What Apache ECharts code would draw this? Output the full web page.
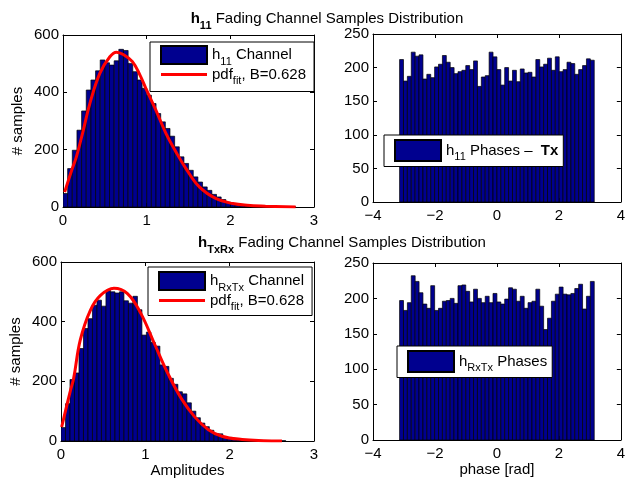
<!DOCTYPE html>
<html lang="en">
<head>
  <meta charset="UTF-8">
  <title>Fading Channel Samples Distribution</title>
  <script src="https://cdn.jsdelivr.net/npm/echarts/dist/echarts.min.js"></script>
  <style>
    html, body { margin: 0; padding: 0; background: #fff; }
    #chart { width: 628px; height: 481px; }
  </style>
</head>
<body>
<div id="chart"></div>
<script>
  // h11 amplitude histogram (50 bins)
  const h11AmpCounts = [47, 134, 198, 268, 335, 408, 443, 475, 513, 503, 495, 510, 550, 546, 501, 472, 443, 414, 390, 361,
    326, 297, 274, 247, 210, 175, 152, 128, 105, 87, 70, 58, 44, 35, 26, 17, 12, 7, 5, 4,
    3, 2, 2, 1, 1, 1, 0, 1, 0, 1];
  const h11AmpBinStart = 0.0;
  const h11AmpBinWidth = 0.0556;
  // fitted pdf
  const h11FitX = [0.02, 0.1, 0.16, 0.24, 0.32, 0.44, 0.56, 0.64, 0.72, 0.83, 0.92, 0.99, 1.11, 1.23, 1.35, 1.47, 1.63, 1.83, 2.03, 2.2, 2.42, 2.78];
  const h11FitY = [52, 125, 175, 265, 360, 466, 524, 540, 532, 507, 460, 414, 338, 257, 192, 134, 70, 29, 12, 6, 3, 0];

  // h11 phase histogram (50 bins over -pi..pi)
  const h11PhaseCounts = [212, 180, 187, 223, 217, 219, 183, 190, 185, 201, 205, 218, 208, 200, 191, 194, 196, 203, 197, 210,
    172, 186, 188, 223, 216, 197, 174, 200, 180, 196, 179, 198, 192, 193, 186, 212, 201, 205, 214, 196,
    216, 194, 197, 208, 206, 190, 197, 203, 213, 211];

  // hTxRx amplitude histogram
  const txrxAmpCounts = [45, 125, 206, 228, 310, 377, 410, 455, 472, 452, 505, 500, 496, 500, 470, 462, 485, 440, 355, 365,
    330, 318, 255, 250, 210, 190, 165, 158, 128, 100, 78, 60, 48, 36, 25, 24, 14, 12, 8, 6,
    4, 3, 2, 2, 1, 1, 1, 0, 0, 1];
  const txrxAmpBinStart = 0.0;
  const txrxAmpBinWidth = 0.0533;
  const txrxFitX = [0.008, 0.108, 0.15, 0.228, 0.348, 0.468, 0.628, 0.788, 0.948, 1.108, 1.268, 1.428, 1.588, 1.748, 1.908, 2.148, 2.4, 2.62];
  const txrxFitY = [47, 165, 210, 338, 438, 488, 512, 494, 427, 326, 226, 142, 80, 38, 16, 5, 1, 0];

  // hTxRx phase histogram
  const txrxPhaseCounts = [197, 183, 194, 232, 224, 208, 192, 186, 218, 183, 186, 196, 197, 200, 193, 218, 219, 210, 195, 213,
    200, 194, 203, 194, 207, 195, 192, 199, 215, 213, 196, 203, 186, 194, 196, 213, 189, 156, 172, 196,
    206, 216, 206, 205, 207, 214, 220, 185, 203, 224];
  const phaseBinStart = -Math.PI;
  const phaseBinWidth = 2 * Math.PI / 50;

  // axis ranges / ticks
  const ampXTicks = [0, 3, 1];
  const ampYTicks = [0, 600, 200];
  const phaseXTicks = [-4, 4, 2];
  const phaseYTicks = [0, 250, 50];

  const FONT = '"Liberation Sans", Arial, Helvetica, sans-serif';
  const BAR_FILL = '#00008F';
  const FIT_RED = '#FF0000';
  const LINE_ICON = 'path://M0,0H46V3H0Z';

  const chart = echarts.init(document.getElementById('chart'), null, { renderer: 'canvas' });

  const rich = {
    n: { fontSize: 15, fontFamily: FONT, color: '#000', lineHeight: 24, verticalAlign: 'middle' },
    b: { fontSize: 15, fontFamily: FONT, color: '#000', fontWeight: 'bold', lineHeight: 24, verticalAlign: 'middle' },
    s: { fontSize: 11, fontFamily: FONT, color: '#000', lineHeight: 11, verticalAlign: 'bottom' },
    sb: { fontSize: 11, fontFamily: FONT, color: '#000', fontWeight: 'bold', lineHeight: 11, verticalAlign: 'bottom' }
  };

  const legendText = {
    'h11 Channel': '{n|h}{s|11}{n| Channel}',
    'pdf11': '{n|pdf}{s|fit}{n|, B=0.628}',
    'h11 Phases': '{n|h}{s|11}{n| Phases –  }{b|Tx}',
    'hRxTx Channel': '{n|h}{s|RxTx}{n| Channel}',
    'pdfRxTx': '{n|pdf}{s|fit}{n|, B=0.628}',
    'hRxTx Phases': '{n|h}{s|RxTx}{n| Phases}'
  };

  const grids = [
    { left: 63, top: 35, width: 251, height: 172 },
    { left: 373, top: 34, width: 251, height: 168 },
    { left: 61, top: 262, width: 253, height: 179 },
    { left: 373, top: 263, width: 251, height: 177 }
  ];

  const tickFmt = v => String(v).replace('-', '\u2212');

  const xAxes = [], yAxes = [];
  function addAxes(gi, xt, yt, xName, xNameGap, yName) {
    const line = { show: true, onZero: false, lineStyle: { color: '#000', width: 1 } };
    const tick = { show: true, inside: true, length: 4, lineStyle: { color: '#000' } };
    const label = { show: true, color: '#000', fontSize: 15, fontFamily: FONT, formatter: tickFmt };
    xAxes.push({
      gridIndex: gi, type: 'value', min: xt[0], max: xt[1], interval: xt[2],
      axisLine: line, axisTick: tick, splitLine: { show: false },
      axisLabel: Object.assign({ margin: 6 }, label),
      name: xName, nameLocation: 'middle', nameGap: xNameGap,
      nameTextStyle: { color: '#000', fontSize: 15, fontFamily: FONT }
    });
    xAxes.push({
      gridIndex: gi, type: 'value', position: 'top', min: xt[0], max: xt[1], interval: xt[2],
      axisLine: line, axisTick: tick, splitLine: { show: false }, axisLabel: { show: false }
    });
    yAxes.push({
      gridIndex: gi, type: 'value', min: yt[0], max: yt[1], interval: yt[2],
      axisLine: line, axisTick: tick, splitLine: { show: false },
      axisLabel: Object.assign({ margin: 4 }, label),
      name: yName, nameLocation: 'middle', nameGap: 38, nameRotate: 90,
      nameTextStyle: { color: '#000', fontSize: 15, fontFamily: FONT }
    });
    yAxes.push({
      gridIndex: gi, type: 'value', position: 'right', min: yt[0], max: yt[1], interval: yt[2],
      axisLine: line, axisTick: tick, splitLine: { show: false }, axisLabel: { show: false }
    });
  }
  addAxes(0, ampXTicks, ampYTicks, '', 0, '# samples');
  addAxes(1, phaseXTicks, phaseYTicks, '', 0, '');
  addAxes(2, ampXTicks, ampYTicks, 'Amplitudes', 21, '# samples');
  addAxes(3, phaseXTicks, phaseYTicks, 'phase [rad]', 16, '');

  function histSeries(name, counts, start, width, gi) {
    return {
      name: name,
      type: 'custom',
      xAxisIndex: 2 * gi,
      yAxisIndex: 2 * gi,
      clip: true,
      itemStyle: { color: BAR_FILL, borderColor: '#000', borderWidth: 1 },
      encode: { x: [0, 1], y: 2 },
      data: counts.map((c, i) => [start + i * width, start + (i + 1) * width, c]),
      renderItem: function (params, api) {
        const a = api.coord([api.value(0), api.value(2)]);
        const b = api.coord([api.value(1), 0]);
        return {
          type: 'rect',
          shape: { x: a[0], y: a[1], width: b[0] - a[0], height: b[1] - a[1] },
          style: { fill: BAR_FILL, stroke: '#000', lineWidth: 0.7 }
        };
      }
    };
  }

  function fitSeries(name, xs, ys, gi) {
    return {
      name: name,
      type: 'line',
      xAxisIndex: 2 * gi,
      yAxisIndex: 2 * gi,
      smooth: 0.4,
      symbol: 'none',
      lineStyle: { color: FIT_RED, width: 3 },
      itemStyle: { color: FIT_RED },
      data: xs.map((x, i) => [x, ys[i]]),
      z: 3
    };
  }

  function legendBox(names, left, top, itemHeight, padding) {
    return {
      data: names,
      orient: 'vertical',
      left: left,
      top: top,
      itemWidth: 46,
      itemHeight: itemHeight,
      itemGap: 0,
      padding: padding,
      borderColor: '#000',
      borderWidth: 1,
      borderRadius: 0,
      backgroundColor: '#fff',
      selectedMode: false,
      textStyle: { color: '#000', fontSize: 15, fontFamily: FONT, rich: rich },
      formatter: name => legendText[name]
    };
  }

  chart.setOption({
    backgroundColor: '#fff',
    animation: false,
    grid: grids,
    xAxis: xAxes,
    yAxis: yAxes,
    legend: [
      legendBox([{ name: 'h11 Channel', icon: 'rect' },
        { name: 'pdf11', icon: LINE_ICON, itemStyle: { color: FIT_RED, borderWidth: 0 } }], 150, 42, 18, [3, 8, 5, 10]),
      legendBox([{ name: 'h11 Phases', icon: 'rect' }], 384, 135, 21, [4, 5, 4, 10]),
      legendBox([{ name: 'hRxTx Channel', icon: 'rect' },
        { name: 'pdfRxTx', icon: LINE_ICON, itemStyle: { color: FIT_RED, borderWidth: 0 } }], 148, 267, 18, [4, 8, 3, 10]),
      legendBox([{ name: 'hRxTx Phases', icon: 'rect' }], 397, 346, 21, [4, 5, 4, 10])
    ],
    graphic: [
      {
        type: 'text', x: 327, y: 19,
        style: {
          text: '{b|h}{sb|11}{n| Fading Channel Samples Distribution}',
          rich: rich, align: 'center', verticalAlign: 'middle', fill: '#000'
        }
      },
      {
        type: 'text', x: 342, y: 243,
        style: {
          text: '{b|h}{sb|TxRx}{n| Fading Channel Samples Distribution}',
          rich: rich, align: 'center', verticalAlign: 'middle', fill: '#000'
        }
      }
    ],
    series: [
      histSeries('h11 Channel', h11AmpCounts, h11AmpBinStart, h11AmpBinWidth, 0),
      fitSeries('pdf11', h11FitX, h11FitY, 0),
      histSeries('h11 Phases', h11PhaseCounts, phaseBinStart, phaseBinWidth, 1),
      histSeries('hRxTx Channel', txrxAmpCounts, txrxAmpBinStart, txrxAmpBinWidth, 2),
      fitSeries('pdfRxTx', txrxFitX, txrxFitY, 2),
      histSeries('hRxTx Phases', txrxPhaseCounts, phaseBinStart, phaseBinWidth, 3)
    ]
  });
</script>
</body>
</html>
